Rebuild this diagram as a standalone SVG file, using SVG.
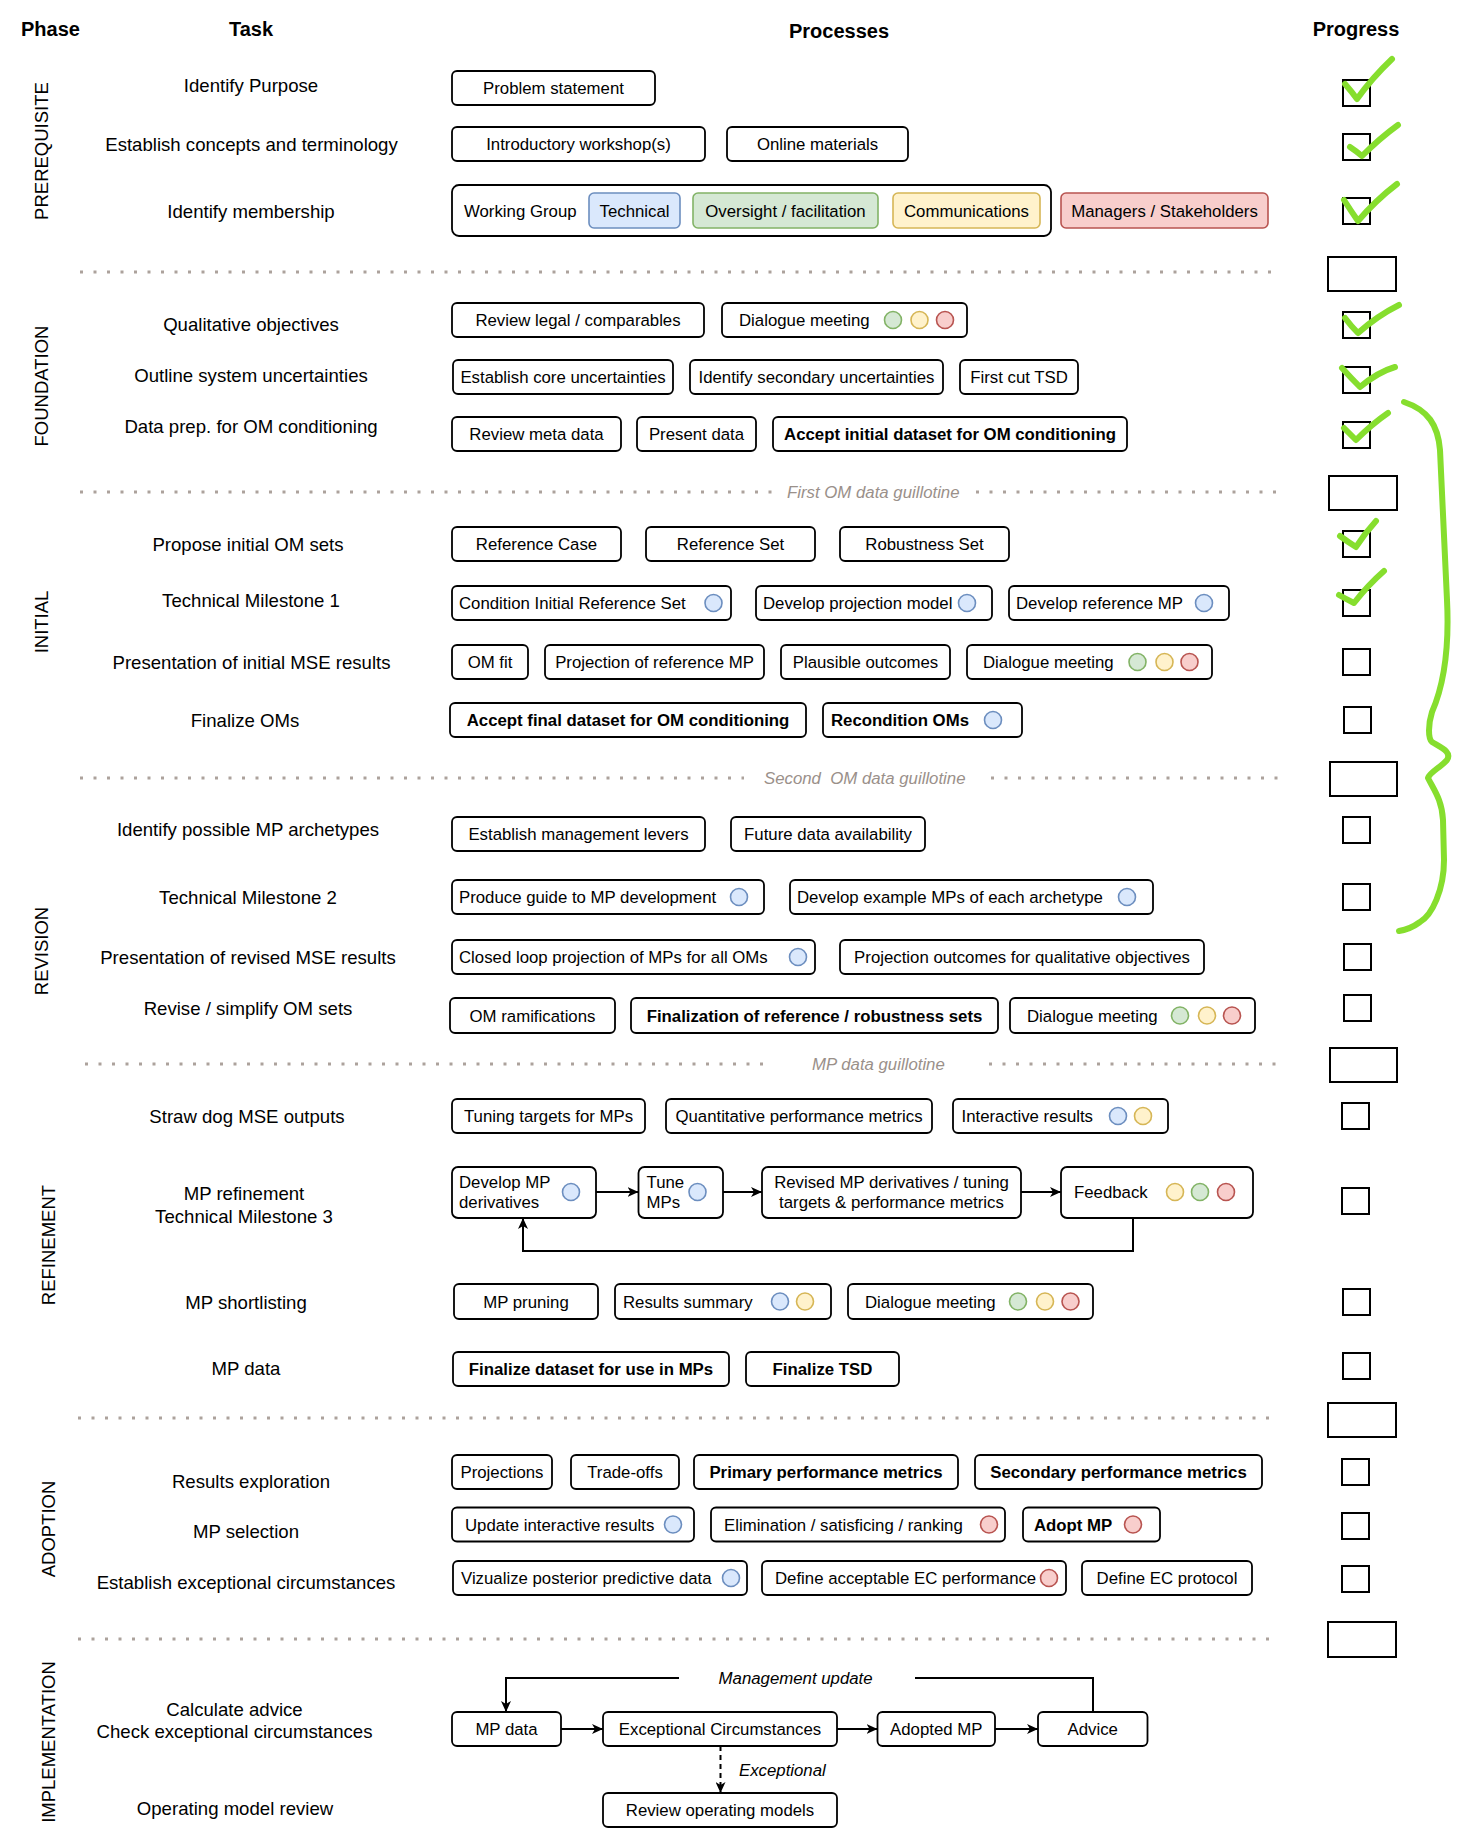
<svg xmlns="http://www.w3.org/2000/svg" width="1474" height="1840" viewBox="0 0 1474 1840">
<style>
text{font-family:"Liberation Sans",Arial,sans-serif;fill:#000}
.h{font-size:20px;font-weight:bold;text-anchor:middle}
.ph{font-size:18.5px;text-anchor:middle}
.t{font-size:18.6px;text-anchor:middle}
.c{font-size:16.8px;text-anchor:middle}
.l{font-size:16.8px}
.bd{font-weight:bold}
.g{font-size:16.8px;font-style:italic;fill:#9a908a;white-space:pre}
.i{font-size:16.8px;font-style:italic}
.box{fill:#fff;stroke:#000;stroke-width:1.8}
.cb{fill:#fff;stroke:#000;stroke-width:2}
.dv{stroke:#aca29c;stroke-width:3;stroke-dasharray:3 10.5;fill:none}
.ln{stroke:#000;stroke-width:2;fill:none}
.ck{stroke:#86de2e;stroke-width:6;fill:none;stroke-linecap:round;stroke-linejoin:round}
.cB{fill:#dae8fc;stroke:#6c8ebf;stroke-width:1.6}
.cG{fill:#d5e8d4;stroke:#82b366;stroke-width:1.6}
.cY{fill:#fff2cc;stroke:#d6b656;stroke-width:1.6}
.cR{fill:#f8cecc;stroke:#b85450;stroke-width:1.6}
</style>
<defs>
<marker id="arr" viewBox="0 0 12 10" markerWidth="12" markerHeight="10" refX="11" refY="5" orient="auto" markerUnits="userSpaceOnUse">
<path d="M0,0 L11,5 L0,10 L3,5 Z" fill="#000"/>
</marker>
</defs>
<rect width="1474" height="1840" fill="#fff"/>

<g id="headers">
<text class="h" x="50.5" y="35.5">Phase</text>
<text class="h" x="251" y="35.5">Task</text>
<text class="h" x="839" y="38">Processes</text>
<text class="h" x="1356" y="35.5">Progress</text>
</g>

<g id="phases">
<text class="ph" transform="translate(41,151) rotate(-90)" y="6.6">PREREQUISITE</text>
<text class="ph" transform="translate(41,386) rotate(-90)" y="6.6">FOUNDATION</text>
<text class="ph" transform="translate(41,622) rotate(-90)" y="6.6">INITIAL</text>
<text class="ph" transform="translate(41,951) rotate(-90)" y="6.6">REVISION</text>
<text class="ph" transform="translate(48,1245) rotate(-90)" y="6.6">REFINEMENT</text>
<text class="ph" transform="translate(48,1529) rotate(-90)" y="6.6">ADOPTION</text>
<text class="ph" transform="translate(48,1742) rotate(-90)" y="6.6">IMPLEMENTATION</text>
</g>

<g id="tasks">
<text class="t" x="251" y="91.7">Identify Purpose</text>
<text class="t" x="251.5" y="150.7">Establish concepts and terminology</text>
<text class="t" x="251" y="217.7">Identify membership</text>
<text class="t" x="251" y="330.7">Qualitative objectives</text>
<text class="t" x="251" y="381.7">Outline system uncertainties</text>
<text class="t" x="251" y="432.7">Data prep. for OM conditioning</text>
<text class="t" x="248" y="550.7">Propose initial OM sets</text>
<text class="t" x="251" y="606.7">Technical Milestone 1</text>
<text class="t" x="251.5" y="668.7">Presentation of initial MSE results</text>
<text class="t" x="245" y="726.7">Finalize OMs</text>
<text class="t" x="248" y="835.7">Identify possible MP archetypes</text>
<text class="t" x="248" y="903.7">Technical Milestone 2</text>
<text class="t" x="248" y="963.7">Presentation of revised MSE results</text>
<text class="t" x="248" y="1014.7">Revise / simplify OM sets</text>
<text class="t" x="247" y="1122.7">Straw dog MSE outputs</text>
<text class="t" x="244" y="1199.7">MP refinement</text>
<text class="t" x="244" y="1222.7">Technical Milestone 3</text>
<text class="t" x="246" y="1308.7">MP shortlisting</text>
<text class="t" x="246" y="1374.7">MP data</text>
<text class="t" x="251" y="1487.7">Results exploration</text>
<text class="t" x="246" y="1537.7">MP selection</text>
<text class="t" x="246" y="1588.7">Establish exceptional circumstances</text>
<text class="t" x="234.5" y="1715.7">Calculate advice</text>
<text class="t" x="234.5" y="1737.7">Check exceptional circumstances</text>
<text class="t" x="235" y="1814.7">Operating model review</text>
</g>

<g id="dividers">
<line class="dv" x1="80" y1="272" x2="1274" y2="272"/>
<line class="dv" x1="80" y1="492" x2="774" y2="492"/>
<text class="g" x="787" y="498">First OM data guillotine</text>
<line class="dv" x1="976" y1="492" x2="1276" y2="492"/>
<line class="dv" x1="80" y1="778" x2="744" y2="778"/>
<text class="g" x="764" y="784">Second  OM data guillotine</text>
<line class="dv" x1="991" y1="778" x2="1278" y2="778"/>
<line class="dv" x1="85" y1="1064" x2="767" y2="1064"/>
<text class="g" x="812" y="1070">MP data guillotine</text>
<line class="dv" x1="989" y1="1064" x2="1276" y2="1064"/>
<line class="dv" x1="78" y1="1418" x2="1272" y2="1418"/>
<line class="dv" x1="78" y1="1639" x2="1272" y2="1639"/>
</g>

<g id="connectors">
<line class="ln" x1="596" y1="1192" x2="638.5" y2="1192" marker-end="url(#arr)"/>
<line class="ln" x1="723" y1="1192" x2="762" y2="1192" marker-end="url(#arr)"/>
<line class="ln" x1="1021" y1="1192" x2="1061" y2="1192" marker-end="url(#arr)"/>
<path class="ln" d="M1133,1218 V1251 H523 V1218" marker-end="url(#arr)"/>
<line class="ln" x1="561" y1="1729" x2="603" y2="1729" marker-end="url(#arr)"/>
<line class="ln" x1="837" y1="1729" x2="877.5" y2="1729" marker-end="url(#arr)"/>
<line class="ln" x1="995" y1="1729" x2="1038" y2="1729" marker-end="url(#arr)"/>
<path class="ln" d="M1093,1712 V1678 H915"/>
<path class="ln" d="M679,1678 H506 V1712" marker-end="url(#arr)"/>
<text class="i" x="795.6" y="1684" text-anchor="middle">Management update</text>
<path class="ln" d="M720.5,1746 V1793" stroke-dasharray="5 4" marker-end="url(#arr)"/>
<text class="i" x="739" y="1776">Exceptional</text>
</g>

<g id="n-problem-statement"><rect class="box" x="452" y="71" width="203" height="34" rx="5"/><text class="c" x="553.5" y="94">Problem statement</text></g>
<g id="n-intro-workshop"><rect class="box" x="452" y="127" width="253" height="34" rx="5"/><text class="c" x="578.5" y="150">Introductory workshop(s)</text></g>
<g id="n-online-materials"><rect class="box" x="727" y="127" width="181" height="34" rx="5"/><text class="c" x="817.5" y="150">Online materials</text></g>
<g id="n-working-group"><rect class="box" x="452" y="185" width="599" height="51" rx="7"/><text class="l" x="464" y="217">Working Group</text>
<g id="n-technical"><rect class="cB" x="589" y="193" width="91" height="35" rx="5"/><text class="c" x="634.5" y="216.5">Technical</text></g>
<g id="n-oversight"><rect class="cG" x="693" y="193" width="185" height="35" rx="5"/><text class="c" x="785.5" y="216.5">Oversight / facilitation</text></g>
<g id="n-communications"><rect class="cY" x="893" y="193" width="147" height="35" rx="5"/><text class="c" x="966.5" y="216.5">Communications</text></g>
</g>
<g id="n-managers"><rect class="cR" x="1061" y="193" width="207" height="35" rx="5"/><text class="c" x="1164.5" y="216.5">Managers / Stakeholders</text></g>

<g id="n-review-legal"><rect class="box" x="452" y="303" width="252" height="34" rx="5"/><text class="c" x="578" y="326">Review legal / comparables</text></g>
<g id="n-dialogue-1"><rect class="box" x="722" y="303" width="245" height="34" rx="5"/><text class="l" x="739" y="326">Dialogue meeting</text><circle class="cG" cx="893" cy="320" r="8.5"/><circle class="cY" cx="919.5" cy="320" r="8.5"/><circle class="cR" cx="945" cy="320" r="8.5"/></g>
<g id="n-core-unc"><rect class="box" x="453" y="360" width="220" height="34" rx="5"/><text class="c" x="563" y="383">Establish core uncertainties</text></g>
<g id="n-secondary-unc"><rect class="box" x="690" y="360" width="253" height="34" rx="5"/><text class="c" x="816.5" y="383">Identify secondary uncertainties</text></g>
<g id="n-first-cut-tsd"><rect class="box" x="960" y="360" width="118" height="34" rx="5"/><text class="c" x="1019" y="383">First cut TSD</text></g>
<g id="n-review-meta"><rect class="box" x="452" y="417" width="169" height="34" rx="5"/><text class="c" x="536.5" y="440">Review meta data</text></g>
<g id="n-present-data"><rect class="box" x="637" y="417" width="119" height="34" rx="5"/><text class="c" x="696.5" y="440">Present data</text></g>
<g id="n-accept-initial"><rect class="box" x="773" y="417" width="354" height="34" rx="5"/><text class="c bd" x="950" y="440">Accept initial dataset for OM conditioning</text></g>

<g id="n-reference-case"><rect class="box" x="452" y="527" width="169" height="34" rx="5"/><text class="c" x="536.5" y="550">Reference Case</text></g>
<g id="n-reference-set"><rect class="box" x="646" y="527" width="169" height="34" rx="5"/><text class="c" x="730.5" y="550">Reference Set</text></g>
<g id="n-robustness-set"><rect class="box" x="840" y="527" width="169" height="34" rx="5"/><text class="c" x="924.5" y="550">Robustness Set</text></g>
<g id="n-condition-initial"><rect class="box" x="452" y="586" width="279" height="34" rx="5"/><text class="l" x="459" y="609">Condition Initial Reference Set</text><circle class="cB" cx="713.5" cy="603" r="8.5"/></g>
<g id="n-dev-projection"><rect class="box" x="756" y="586" width="236" height="34" rx="5"/><text class="l" x="763" y="609">Develop projection model</text><circle class="cB" cx="967" cy="603" r="8.5"/></g>
<g id="n-dev-reference-mp"><rect class="box" x="1009" y="586" width="220" height="34" rx="5"/><text class="l" x="1016" y="609">Develop reference MP</text><circle class="cB" cx="1204" cy="603" r="8.5"/></g>
<g id="n-om-fit"><rect class="box" x="452" y="645" width="76" height="34" rx="5"/><text class="c" x="490" y="668">OM fit</text></g>
<g id="n-projection-ref-mp"><rect class="box" x="545" y="645" width="219" height="34" rx="5"/><text class="c" x="654.5" y="668">Projection of reference MP</text></g>
<g id="n-plausible"><rect class="box" x="781" y="645" width="169" height="34" rx="5"/><text class="c" x="865.5" y="668">Plausible outcomes</text></g>
<g id="n-dialogue-2"><rect class="box" x="967" y="645" width="245" height="34" rx="5"/><text class="l" x="983" y="668">Dialogue meeting</text><circle class="cG" cx="1137.5" cy="662" r="8.5"/><circle class="cY" cx="1164.5" cy="662" r="8.5"/><circle class="cR" cx="1189.5" cy="662" r="8.5"/></g>
<g id="n-accept-final"><rect class="box" x="450" y="703" width="356" height="34" rx="5"/><text class="c bd" x="628" y="726">Accept final dataset for OM conditioning</text></g>
<g id="n-recondition"><rect class="box" x="823" y="703" width="199" height="34" rx="5"/><text class="l bd" x="831" y="726">Recondition OMs</text><circle class="cB" cx="993" cy="720" r="8.5"/></g>

<g id="n-mgmt-levers"><rect class="box" x="452" y="817" width="253" height="34" rx="5"/><text class="c" x="578.5" y="840">Establish management levers</text></g>
<g id="n-future-data"><rect class="box" x="731" y="817" width="194" height="34" rx="5"/><text class="c" x="828" y="840">Future data availability</text></g>
<g id="n-produce-guide"><rect class="box" x="452" y="880" width="312" height="34" rx="5"/><text class="l" x="459" y="903">Produce guide to MP development</text><circle class="cB" cx="739" cy="897" r="8.5"/></g>
<g id="n-dev-example"><rect class="box" x="790" y="880" width="363" height="34" rx="5"/><text class="l" x="797" y="903">Develop example MPs of each archetype</text><circle class="cB" cx="1127" cy="897" r="8.5"/></g>
<g id="n-closed-loop"><rect class="box" x="452" y="940" width="363" height="34" rx="5"/><text class="l" x="459" y="963">Closed loop projection of MPs for all OMs</text><circle class="cB" cx="798" cy="957" r="8.5"/></g>
<g id="n-projection-outcomes"><rect class="box" x="840" y="940" width="364" height="34" rx="5"/><text class="c" x="1022" y="963">Projection outcomes for qualitative objectives</text></g>
<g id="n-om-ramifications"><rect class="box" x="450" y="998" width="165" height="35" rx="5"/><text class="c" x="532.5" y="1021.5">OM ramifications</text></g>
<g id="n-finalization"><rect class="box" x="631" y="998" width="367" height="35" rx="5"/><text class="c bd" x="814.5" y="1021.5">Finalization of reference / robustness sets</text></g>
<g id="n-dialogue-3"><rect class="box" x="1010" y="998" width="245" height="35" rx="5"/><text class="l" x="1027" y="1021.5">Dialogue meeting</text><circle class="cG" cx="1180" cy="1015.5" r="8.5"/><circle class="cY" cx="1207" cy="1015.5" r="8.5"/><circle class="cR" cx="1232" cy="1015.5" r="8.5"/></g>

<g id="n-tuning-targets"><rect class="box" x="452" y="1099" width="193" height="34" rx="5"/><text class="c" x="548.5" y="1122">Tuning targets for MPs</text></g>
<g id="n-quantitative"><rect class="box" x="666" y="1099" width="266" height="34" rx="5"/><text class="c" x="799" y="1122">Quantitative performance metrics</text></g>
<g id="n-interactive"><rect class="box" x="953" y="1099" width="215" height="34" rx="5"/><text class="l" x="961.5" y="1122">Interactive results</text><circle class="cB" cx="1118" cy="1116" r="8.5"/><circle class="cY" cx="1143" cy="1116" r="8.5"/></g>
<g id="n-develop-mp-deriv"><rect class="box" x="452" y="1167" width="144" height="51" rx="6"/><text class="l" x="459" y="1188">Develop MP</text><text class="l" x="459" y="1208">derivatives</text><circle class="cB" cx="571" cy="1192" r="8.5"/></g>
<g id="n-tune-mps"><rect class="box" x="638.5" y="1167" width="84.5" height="51" rx="6"/><text class="l" x="646.5" y="1188">Tune</text><text class="l" x="646.5" y="1208">MPs</text><circle class="cB" cx="697.5" cy="1192" r="8.5"/></g>
<g id="n-revised-mp"><rect class="box" x="762" y="1167" width="259" height="51" rx="6"/><text class="c" x="891.5" y="1188">Revised MP derivatives / tuning</text><text class="c" x="891.5" y="1208">targets &amp; performance metrics</text></g>
<g id="n-feedback"><rect class="box" x="1061" y="1167" width="192" height="51" rx="6"/><text class="l" x="1074" y="1198">Feedback</text><circle class="cY" cx="1175" cy="1192" r="8.5"/><circle class="cG" cx="1200" cy="1192" r="8.5"/><circle class="cR" cx="1226" cy="1192" r="8.5"/></g>
<g id="n-mp-pruning"><rect class="box" x="454" y="1284" width="144" height="35" rx="5"/><text class="c" x="526" y="1307.5">MP pruning</text></g>
<g id="n-results-summary"><rect class="box" x="615" y="1284" width="216" height="35" rx="5"/><text class="l" x="623" y="1307.5">Results summary</text><circle class="cB" cx="780" cy="1301.5" r="8.5"/><circle class="cY" cx="805" cy="1301.5" r="8.5"/></g>
<g id="n-dialogue-4"><rect class="box" x="848" y="1284" width="245" height="35" rx="5"/><text class="l" x="865" y="1307.5">Dialogue meeting</text><circle class="cG" cx="1018" cy="1301.5" r="8.5"/><circle class="cY" cx="1045" cy="1301.5" r="8.5"/><circle class="cR" cx="1070.5" cy="1301.5" r="8.5"/></g>
<g id="n-finalize-dataset"><rect class="box" x="453" y="1352" width="276" height="34" rx="5"/><text class="c bd" x="591" y="1375">Finalize dataset for use in MPs</text></g>
<g id="n-finalize-tsd"><rect class="box" x="746" y="1352" width="153" height="34" rx="5"/><text class="c bd" x="822.5" y="1375">Finalize TSD</text></g>

<g id="n-projections"><rect class="box" x="452" y="1455" width="100" height="34" rx="5"/><text class="c" x="502" y="1478">Projections</text></g>
<g id="n-trade-offs"><rect class="box" x="571" y="1455" width="108" height="34" rx="5"/><text class="c" x="625" y="1478">Trade-offs</text></g>
<g id="n-primary"><rect class="box" x="694" y="1455" width="264" height="34" rx="5"/><text class="c bd" x="826" y="1478">Primary performance metrics</text></g>
<g id="n-secondary"><rect class="box" x="975" y="1455" width="287" height="34" rx="5"/><text class="c bd" x="1118.5" y="1478">Secondary performance metrics</text></g>
<g id="n-update-interactive"><rect class="box" x="452" y="1507.5" width="242" height="34" rx="5"/><text class="l" x="465" y="1530.5">Update interactive results</text><circle class="cB" cx="673" cy="1524.5" r="8.5"/></g>
<g id="n-elimination"><rect class="box" x="711" y="1507.5" width="294" height="34" rx="5"/><text class="l" x="724" y="1530.5">Elimination / satisficing / ranking</text><circle class="cR" cx="989" cy="1524.5" r="8.5"/></g>
<g id="n-adopt-mp"><rect class="box" x="1023" y="1507.5" width="137" height="34" rx="5"/><text class="l bd" x="1034" y="1530.5">Adopt MP</text><circle class="cR" cx="1133" cy="1524.5" r="8.5"/></g>
<g id="n-vizualize"><rect class="box" x="453" y="1561" width="294" height="34" rx="5"/><text class="l" x="461" y="1584">Vizualize posterior predictive data</text><circle class="cB" cx="731" cy="1578" r="8.5"/></g>
<g id="n-define-acceptable"><rect class="box" x="762" y="1561" width="304" height="34" rx="5"/><text class="l" x="775" y="1584">Define acceptable EC performance</text><circle class="cR" cx="1049" cy="1578" r="8.5"/></g>
<g id="n-define-protocol"><rect class="box" x="1082" y="1561" width="170" height="34" rx="5"/><text class="c" x="1167" y="1584">Define EC protocol</text></g>

<g id="n-impl-mp-data"><rect class="box" x="452" y="1712" width="109" height="34" rx="5"/><text class="c" x="506.5" y="1735">MP data</text></g>
<g id="n-exceptional"><rect class="box" x="603" y="1712" width="234" height="34" rx="5"/><text class="c" x="720" y="1735">Exceptional Circumstances</text></g>
<g id="n-adopted-mp"><rect class="box" x="877.5" y="1712" width="117.5" height="34" rx="5"/><text class="c" x="936.25" y="1735">Adopted MP</text></g>
<g id="n-advice"><rect class="box" x="1038" y="1712" width="109.5" height="34" rx="5"/><text class="c" x="1092.75" y="1735">Advice</text></g>
<g id="n-review-operating"><rect class="box" x="603" y="1793" width="234" height="34" rx="5"/><text class="c" x="720" y="1816">Review operating models</text></g>

<g id="progress">
<rect class="cb" x="1343" y="80" width="27" height="26"/>
<rect class="cb" x="1343" y="134" width="27" height="26"/>
<rect class="cb" x="1343" y="198" width="27" height="26"/>
<rect class="cb" x="1328" y="257" width="68" height="34"/>
<rect class="cb" x="1343" y="312" width="27" height="26"/>
<rect class="cb" x="1343" y="367" width="27" height="26"/>
<rect class="cb" x="1343" y="422" width="27" height="26"/>
<rect class="cb" x="1329" y="476" width="68" height="34"/>
<rect class="cb" x="1343" y="531" width="27" height="26"/>
<rect class="cb" x="1343" y="590" width="27" height="26"/>
<rect class="cb" x="1343" y="649" width="27" height="26"/>
<rect class="cb" x="1344" y="707" width="27" height="26"/>
<rect class="cb" x="1330" y="762" width="67" height="34"/>
<rect class="cb" x="1343" y="817" width="27" height="26"/>
<rect class="cb" x="1343" y="884" width="27" height="26"/>
<rect class="cb" x="1344" y="944" width="27" height="26"/>
<rect class="cb" x="1344" y="995" width="27" height="26"/>
<rect class="cb" x="1330" y="1048" width="67" height="34"/>
<rect class="cb" x="1342" y="1103" width="27" height="26"/>
<rect class="cb" x="1342" y="1188" width="27" height="26"/>
<rect class="cb" x="1343" y="1289" width="27" height="26"/>
<rect class="cb" x="1343" y="1353" width="27" height="26"/>
<rect class="cb" x="1328" y="1403" width="68" height="34"/>
<rect class="cb" x="1342" y="1459" width="27" height="26"/>
<rect class="cb" x="1342" y="1513" width="27" height="26"/>
<rect class="cb" x="1342" y="1566" width="27" height="26"/>
<rect class="cb" x="1328" y="1622" width="68" height="35"/>
</g>

<g id="checkmarks">
<path class="ck" d="M1345,84 Q1352,92 1357,99 Q1372,78 1392,59"/>
<path class="ck" d="M1350,147 Q1356,151 1362,156 Q1380,138 1398,125"/>
<path class="ck" d="M1344,200 Q1351,211 1358,221 Q1376,200 1397,184"/>
<path class="ck" d="M1345,318 Q1351,326 1358,333 Q1377,316 1399,305"/>
<path class="ck" d="M1342,368 Q1351,378 1360,387 Q1378,372 1395,367"/>
<path class="ck" d="M1344,428 Q1350,434 1356,440 Q1372,424 1388,413"/>
<path class="ck" d="M1340,536 Q1348,542 1356,547 Q1365,533 1376,521"/>
<path class="ck" d="M1339,595 Q1346,599 1354,603 Q1368,585 1384,571"/>
<path class="ck" d="M1404,402 C1428,410 1438,425 1440,450 L1447,600 C1449,640 1446,680 1432,712 C1428,725 1428,738 1432,742 C1442,748 1452,752 1447,760 C1440,768 1430,772 1428,778 C1434,790 1442,800 1443,820 L1444,860 C1444,890 1432,915 1420,922 C1412,928 1405,930 1399,931"/>
</g>
</svg>
